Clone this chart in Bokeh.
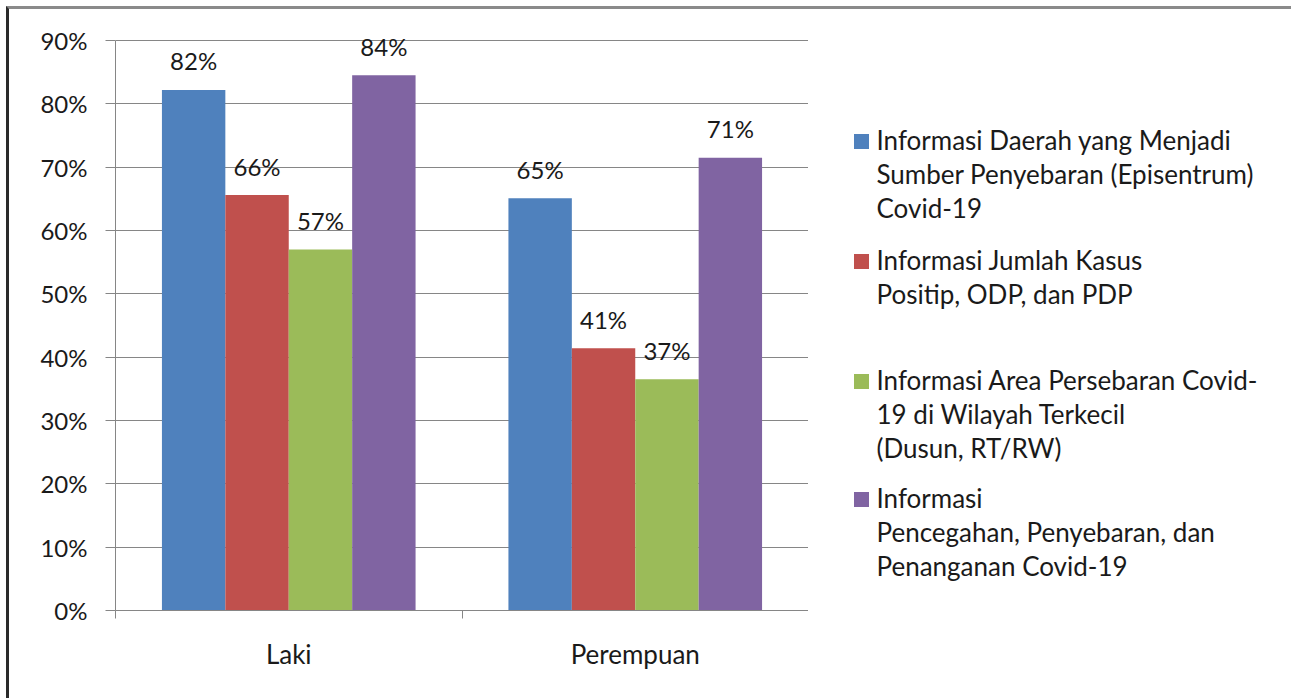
from bokeh.plotting import figure
from bokeh.layouts import row
from bokeh.models import (ColumnDataSource, Range1d, FixedTicker, NumeralTickFormatter,
                          LabelSet)
from bokeh.core.properties import value
from bokeh.embed import file_html
from bokeh.resources import INLINE

categories = ["Laki", "Perempuan"]
series_names = [
    "Informasi Daerah yang Menjadi\nSumber Penyebaran (Episentrum)\nCovid-19",
    "Informasi Jumlah Kasus\nPositip, ODP, dan PDP",
    "Informasi Area Persebaran Covid-\n19 di Wilayah Terkecil\n(Dusun, RT/RW)",
    "Informasi\nPencegahan, Penyebaran, dan\nPenanganan Covid-19",
]
daerah = [0.822, 0.651]
jumlah = [0.656, 0.414]
area = [0.570, 0.365]
pencegahan = [0.845, 0.715]
bar_labels = [["82%", "65%"], ["66%", "41%"], ["57%", "37%"], ["84%", "71%"]]
y_ticks = [0.0, 0.1, 0.2, 0.3, 0.4, 0.5, 0.6, 0.7, 0.8, 0.9]

colors = ["#4F81BD", "#C0504D", "#9BBB59", "#8064A2"]
FONT = "Lato"
TXT = "#1a1a1a"
GRID = "#868686"
OFF = 9          # border offset of the page frame
FRAME_TOP = 14   # page y of frame top (headroom above 90% for labels)
FRAME_BOT = 610  # page y of 0%
FH = FRAME_BOT - FRAME_TOP
YMAX = 0.9 * FH / 570.0
MB_TOP = FRAME_TOP - OFF
MB_BOT = 698 - FRAME_BOT
FIG_H = MB_TOP + FH + MB_BOT

p = figure(frame_width=693, frame_height=FH, x_range=Range1d(0, len(categories)),
           y_range=Range1d(0, YMAX), output_backend="svg", toolbar_location=None,
           min_border_left=115 - OFF, min_border_top=MB_TOP, min_border_bottom=MB_BOT,
           min_border_right=0, background_fill_color="white", border_fill_color="white",
           outline_line_color=None)

bw = 0.183
series = [daerah, jumlah, area, pencegahan]
for k, vals in enumerate(series):
    off = (k - 1.5) * bw
    xs = [i + 0.5 + off for i in range(len(categories))]
    src = ColumnDataSource(dict(x=xs, top=vals, lab=bar_labels[k]))
    p.vbar(x="x", top="top", width=bw, source=src, fill_color=colors[k], line_color=None)
    p.add_layout(LabelSet(x="x", y="top", text="lab", source=src, text_align="center",
                          text_baseline="middle", y_offset=29, text_font=value(FONT),
                          text_font_size="24px", text_color=TXT))

# y axis
p.yaxis.ticker = FixedTicker(ticks=y_ticks)
p.yaxis.bounds = (0, 0.9)
p.yaxis.formatter = NumeralTickFormatter(format="0%")
p.yaxis.axis_line_color = GRID
p.yaxis.major_tick_line_color = GRID
p.yaxis.major_tick_out = 10
p.yaxis.major_tick_in = 0
p.yaxis.minor_tick_line_color = None
p.yaxis.major_label_text_font = FONT
p.yaxis.major_label_text_font_size = "24px"
p.yaxis.major_label_text_color = TXT
p.yaxis.major_label_standoff = 18

# x axis
p.xaxis.ticker = FixedTicker(ticks=[i + 0.5 for i in range(len(categories))],
                             minor_ticks=list(range(len(categories) + 1)))
p.xaxis.major_label_overrides = {i + 0.5: c for i, c in enumerate(categories)}
p.xaxis.axis_line_color = GRID
p.xaxis.major_tick_line_color = None
p.xaxis.minor_tick_line_color = GRID
p.xaxis.minor_tick_out = 8
p.xaxis.minor_tick_in = 0
p.xaxis.major_label_text_font = FONT
p.xaxis.major_label_text_font_size = "26px"
p.xaxis.major_label_text_color = TXT
p.xaxis.major_label_standoff = 19

p.xgrid.grid_line_color = None
p.ygrid.grid_line_color = GRID
p.ygrid.ticker = FixedTicker(ticks=y_ticks)

# legend panel (a second figure whose frame matches the main frame; coords in page px)
LX0, LW = 808, 1291 - 808
leg = figure(width=LW, height=FIG_H, x_range=Range1d(LX0, LX0 + LW),
             y_range=Range1d(FRAME_BOT, FRAME_TOP), output_backend="svg",
             toolbar_location=None, min_border_left=0, min_border_right=0,
             min_border_top=MB_TOP, min_border_bottom=MB_BOT, outline_line_color=None,
             x_axis_type=None, y_axis_type=None,
             background_fill_color="white", border_fill_color="white")
leg.xgrid.grid_line_color = None
leg.ygrid.grid_line_color = None
sq_y = [141, 261, 381, 499]
leg.rect(x=[861] * 4, y=sq_y, width=15, height=15, fill_color=colors, line_color=None)
leg.text(x=[876] * 4, y=[y - 18 for y in sq_y], text=series_names, text_font=value(FONT),
         text_font_size="26px", text_color=TXT, text_baseline="top", text_align="left",
         text_line_height=1.07)

layout = row(p, leg, styles={"border-top": "3px solid #8a8a8a",
                             "border-left": "3px solid #2a2a2a",
                             "margin-left": "6px", "margin-top": "6px"})

open("out.html", "w").write(file_html(layout, INLINE))
